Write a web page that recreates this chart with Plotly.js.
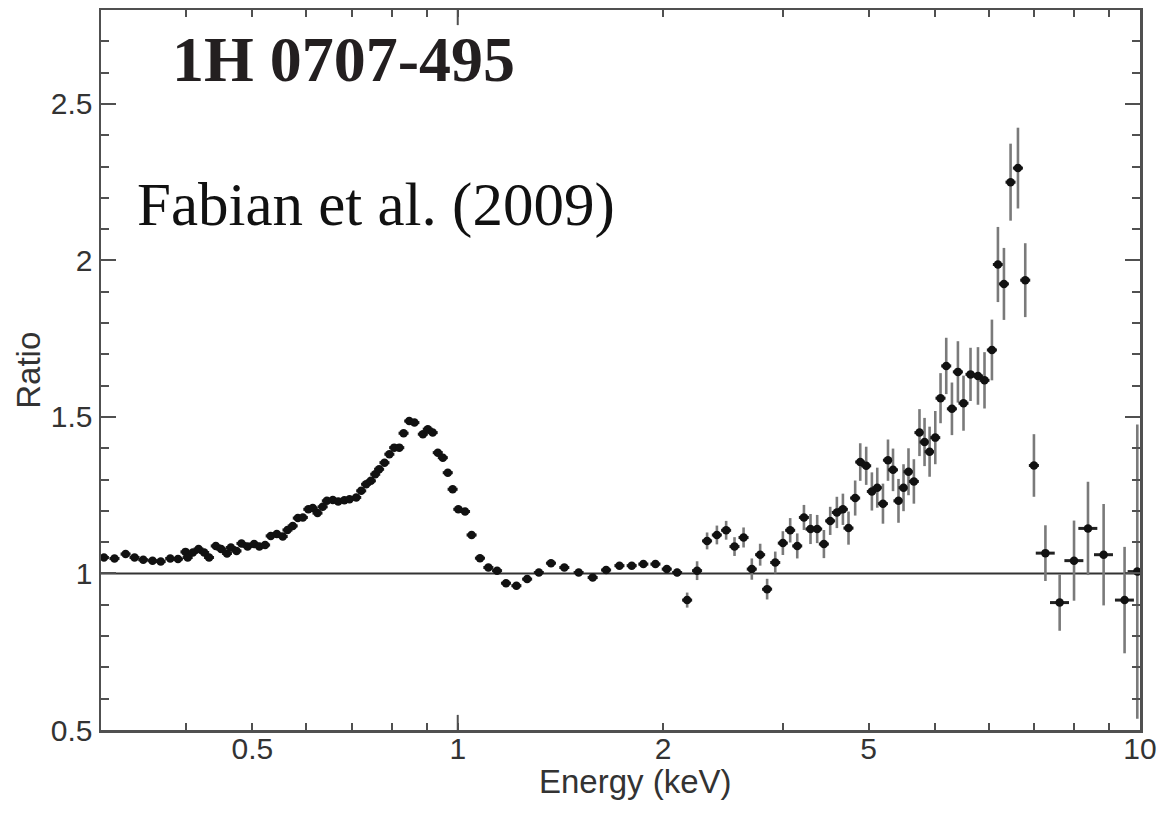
<!DOCTYPE html>
<html>
<head>
<meta charset="utf-8">
<script src="https://cdn.plot.ly/plotly-3.0.1.min.js"></script>
<style>
  html, body { margin: 0; padding: 0; background: #ffffff; }
  #chart { width: 1157px; height: 815px; }
</style>
</head>
<body>
<div id="chart"></div>
<script>
// Energy bins (keV) of the 1H 0707-495 spectrum
const energy = [
  0.303, 0.314, 0.326, 0.336, 0.346, 0.357, 0.367, 0.379, 0.389, 0.399,
  0.402, 0.409, 0.417, 0.425, 0.432, 0.442, 0.450, 0.459, 0.465, 0.474,
  0.482, 0.492, 0.503, 0.512, 0.522, 0.532, 0.543, 0.554, 0.563, 0.573,
  0.583, 0.593, 0.604, 0.613, 0.623, 0.634, 0.643, 0.656, 0.668, 0.682,
  0.694, 0.710, 0.722, 0.734, 0.746, 0.757, 0.767, 0.781, 0.794, 0.807,
  0.821, 0.833, 0.849, 0.864, 0.889, 0.904, 0.919, 0.935, 0.951, 0.967,
  0.983, 1.002, 1.025, 1.048, 1.078, 1.109, 1.142, 1.177, 1.219, 1.264,
  1.315, 1.370, 1.433, 1.504, 1.577, 1.650, 1.726, 1.799, 1.871, 1.949,
  2.025, 2.097, 2.169, 2.243, 2.320, 2.398, 2.474, 2.545, 2.624, 2.698,
  2.775, 2.841, 2.920, 2.996, 3.071, 3.145, 3.217, 3.289, 3.364, 3.441,
  3.515, 3.595, 3.669, 3.739, 3.824, 3.890, 3.969, 4.046, 4.120, 4.200,
  4.272, 4.345, 4.426, 4.502, 4.578, 4.662, 4.751, 4.833, 4.916, 5.011,
  5.101, 5.200, 5.301, 5.409, 5.512, 5.644, 5.788, 5.917, 6.067, 6.191,
  6.318, 6.461, 6.624, 6.789, 6.991, 7.267, 7.625, 8.004, 8.390, 8.845,
  9.493, 9.909
];

// Data / model ratio in each bin
const ratio = [
  1.051, 1.048, 1.062, 1.051, 1.044, 1.041, 1.038, 1.048, 1.046, 1.069,
  1.051, 1.067, 1.078, 1.067, 1.051, 1.088, 1.078, 1.064, 1.083, 1.072,
  1.096, 1.086, 1.094, 1.086, 1.091, 1.120, 1.126, 1.118, 1.139, 1.152,
  1.177, 1.179, 1.205, 1.209, 1.193, 1.213, 1.232, 1.235, 1.230, 1.234,
  1.237, 1.243, 1.264, 1.285, 1.296, 1.317, 1.333, 1.354, 1.381, 1.402,
  1.402, 1.448, 1.487, 1.482, 1.445, 1.461, 1.450, 1.386, 1.370, 1.322,
  1.269, 1.205, 1.198, 1.123, 1.049, 1.019, 1.009, 0.969, 0.961, 0.982,
  1.003, 1.033, 1.019, 1.003, 0.987, 1.011, 1.025, 1.025, 1.030, 1.030,
  1.014, 1.003, 0.915, 1.009, 1.104, 1.123, 1.138, 1.086, 1.115, 1.014,
  1.060, 0.950, 1.035, 1.097, 1.138, 1.088, 1.179, 1.142, 1.142, 1.094,
  1.168, 1.195, 1.205, 1.145, 1.241, 1.356, 1.344, 1.262, 1.274, 1.223,
  1.362, 1.331, 1.232, 1.274, 1.325, 1.294, 1.450, 1.420, 1.389, 1.434,
  1.560, 1.663, 1.526, 1.644, 1.544, 1.636, 1.631, 1.617, 1.714, 1.987,
  1.925, 2.250, 2.295, 1.937, 1.345, 1.065, 0.907, 1.041, 1.144, 1.060,
  0.915, 1.006
];

// 1-sigma uncertainty on the ratio
const ratioErr = [
  0.004, 0.004, 0.004, 0.004, 0.004, 0.004, 0.004, 0.004, 0.004, 0.004,
  0.004, 0.004, 0.004, 0.004, 0.004, 0.004, 0.004, 0.004, 0.004, 0.004,
  0.004, 0.004, 0.004, 0.004, 0.004, 0.004, 0.004, 0.004, 0.004, 0.004,
  0.004, 0.004, 0.004, 0.004, 0.004, 0.004, 0.004, 0.004, 0.004, 0.004,
  0.004, 0.004, 0.004, 0.004, 0.004, 0.004, 0.004, 0.004, 0.004, 0.004,
  0.004, 0.004, 0.004, 0.004, 0.004, 0.004, 0.004, 0.004, 0.004, 0.004,
  0.005, 0.005, 0.005, 0.005, 0.006, 0.006, 0.006, 0.006, 0.006, 0.006,
  0.007, 0.007, 0.007, 0.007, 0.008, 0.008, 0.008, 0.008, 0.009, 0.009,
  0.010, 0.012, 0.024, 0.030, 0.027, 0.030, 0.030, 0.030, 0.032, 0.034,
  0.035, 0.033, 0.035, 0.038, 0.039, 0.040, 0.040, 0.048, 0.045, 0.045,
  0.045, 0.050, 0.050, 0.053, 0.056, 0.060, 0.061, 0.061, 0.064, 0.064,
  0.066, 0.068, 0.070, 0.075, 0.075, 0.071, 0.075, 0.077, 0.080, 0.085,
  0.080, 0.090, 0.084, 0.098, 0.088, 0.085, 0.092, 0.090, 0.097, 0.120,
  0.115, 0.123, 0.129, 0.118, 0.100, 0.089, 0.090, 0.128, 0.149, 0.162,
  0.170, 0.470
];

// Axis labelling
const xTickVals = [0.5, 1, 2, 4, 10];
const xTickText = ['0.5', '1', '2', '5', '10'];
const xMinorVals = [0.4, 0.6, 0.7, 0.8, 0.9, 3, 5, 6, 7, 8, 9];
const yTickVals = [0.5, 1, 1.5, 2, 2.5];
const yMinorVals = [0.6, 0.7, 0.8, 0.9, 1.1, 1.2, 1.3, 1.4, 1.6, 1.7, 1.8, 1.9,
                    2.1, 2.2, 2.3, 2.4, 2.6, 2.7];
const xTitle = 'Energy (keV)';
const yTitle = 'Ratio';

const axisGrey = '#505050';
const sansFamily = 'Liberation Sans, Arial, sans-serif';
const serifFamily = 'Liberation Serif, Times New Roman, serif';
const labelFont = { family: sansFamily, size: 30, color: '#333333' };
const titleFont = { family: sansFamily, size: 33, color: '#333333' };

// Wider energy bins above this energy
const wideBinStart = 7.2;

function pick(arr, keep) { return arr.filter((_, i) => keep(energy[i])); }

function spectrumTrace(keep, binPercent) {
  return {
    type: 'scatter',
    mode: 'markers',
    x: pick(energy, keep),
    y: pick(ratio, keep),
    error_y: { type: 'data', array: pick(ratioErr, keep), visible: true,
               color: '#7a7a7a', thickness: 2.6, width: 0 },
    error_x: { type: 'percent', value: binPercent, visible: true,
               color: '#222222', thickness: 3, width: 0 },
    marker: { color: '#111111', size: 8.5, line: { width: 0 } },
    showlegend: false,
    hoverinfo: 'x+y'
  };
}

const data = [
  spectrumTrace(e => e < wideBinStart, 1.7),
  spectrumTrace(e => e >= wideBinStart, 3.2)
];

const layout = {
  width: 1157,
  height: 815,
  margin: { l: 101, r: 17, t: 10, b: 85, pad: 0 },
  paper_bgcolor: '#ffffff',
  plot_bgcolor: '#ffffff',
  showlegend: false,
  xaxis: {
    type: 'log',
    range: [Math.log10(0.3), 1],
    tickmode: 'array',
    tickvals: xTickVals,
    ticktext: xTickText,
    ticks: 'inside',
    ticklen: 7,
    tickwidth: 2,
    tickcolor: axisGrey,
    minor: { tickmode: 'array', tickvals: xMinorVals, ticks: 'inside', ticklen: 7,
             tickwidth: 2, tickcolor: axisGrey, showgrid: false },
    showline: true,
    linecolor: axisGrey,
    linewidth: 2.5,
    mirror: 'ticks',
    showgrid: false,
    zeroline: false,
    tickfont: labelFont,
    ticklabelstandoff: -10,
    automargin: false
  },
  yaxis: {
    range: [0.5, 2.8],
    tickmode: 'array',
    tickvals: yTickVals,
    ticks: 'inside',
    ticklen: 15,
    tickwidth: 2,
    tickcolor: axisGrey,
    minor: { tickmode: 'array', tickvals: yMinorVals, ticks: 'inside', ticklen: 8,
             tickwidth: 2, tickcolor: axisGrey, showgrid: false },
    showline: true,
    linecolor: axisGrey,
    linewidth: 2.5,
    mirror: 'ticks',
    showgrid: false,
    zeroline: false,
    tickfont: labelFont,
    automargin: false
  },
  shapes: [
    // unity reference line
    { type: 'line', xref: 'paper', yref: 'y', x0: 0, x1: 1, y0: 1, y1: 1,
      line: { color: '#333333', width: 2 }, layer: 'below' },
    // longer ticks at 1 keV on bottom and top edges
    { type: 'line', xref: 'x', yref: 'paper', x0: 1, x1: 1, y0: 0, y1: 0.021,
      line: { color: axisGrey, width: 2 } },
    { type: 'line', xref: 'x', yref: 'paper', x0: 1, x1: 1, y0: 1, y1: 0.979,
      line: { color: axisGrey, width: 2 } }
  ],
  annotations: [
    { text: xTitle, xref: 'paper', yref: 'paper', x: 0.514, y: -0.071,
      xanchor: 'center', yanchor: 'middle', showarrow: false, font: titleFont },
    { text: yTitle, xref: 'paper', yref: 'paper', x: -0.0705, y: 0.5, textangle: -90,
      xanchor: 'center', yanchor: 'middle', showarrow: false, font: titleFont },
    { text: '<b>1H 0707-495</b>', xref: 'paper', yref: 'paper',
      x: 0.066, y: 0.931, xanchor: 'left', yanchor: 'middle', showarrow: false,
      font: { family: serifFamily, size: 64, color: '#231f20' } },
    { text: 'Fabian et al. (2009)', xref: 'paper', yref: 'paper',
      x: 0.033, y: 0.729, xanchor: 'left', yanchor: 'middle', showarrow: false,
      font: { family: serifFamily, size: 61, color: '#111111' } }
  ]
};

Plotly.newPlot('chart', data, layout, { staticPlot: true, displayModeBar: false });
</script>
</body>
</html>
